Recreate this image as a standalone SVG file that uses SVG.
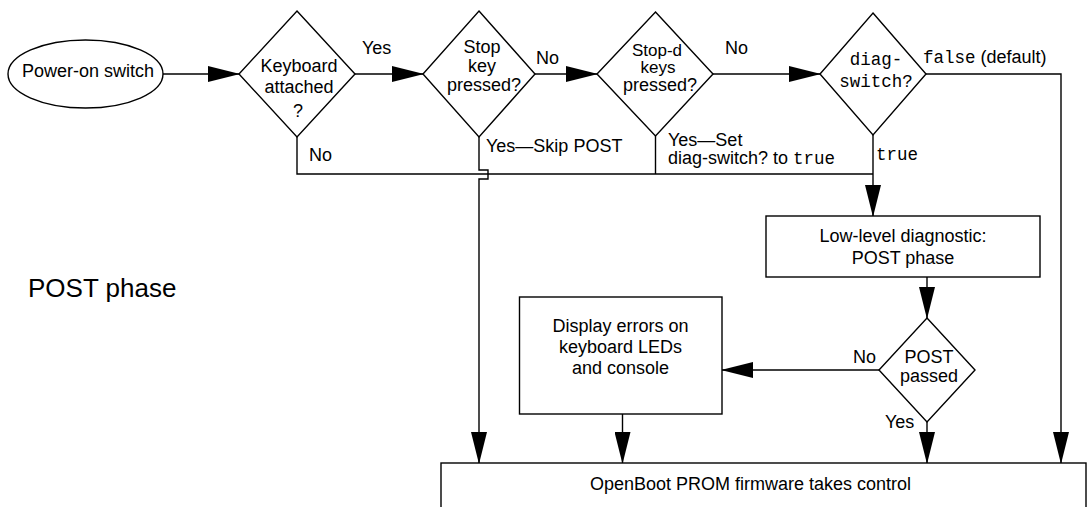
<svg xmlns="http://www.w3.org/2000/svg" width="1087" height="507" viewBox="0 0 1087 507">
<style>
.s{fill:none;stroke:#000;stroke-width:1.4}
.n{fill:#fff;stroke:#000;stroke-width:1.4}
text{font-family:"Liberation Sans",Arial,sans-serif;font-size:18px;fill:#000}
.m{font-family:"Liberation Mono","Courier New",monospace;font-size:17.5px}
.c{text-anchor:middle}
.t{font-size:17px}
</style>
<defs>
<marker id="ah" markerUnits="userSpaceOnUse" markerWidth="32" markerHeight="16" refX="31" refY="8" orient="auto">
<path d="M0,0 L32,8 L0,16 z" fill="#000"/>
</marker>
</defs>
<rect width="1087" height="507" fill="#fff"/>
<g id="connectors">
<path class="s" d="M163,74 H239" marker-end="url(#ah)"/>
<path class="s" d="M355,74 H423" marker-end="url(#ah)"/>
<path class="s" d="M535,74 H597" marker-end="url(#ah)"/>
<path class="s" d="M713,74 H820" marker-end="url(#ah)"/>
<path class="s" d="M297,137 V174 H873"/>
<path class="s" d="M655.5,136 V174"/>
<path class="s" d="M873,135 V216" marker-end="url(#ah)"/>
<path class="s" d="M479,137 V170 H488 V179 H479 V463" marker-end="url(#ah)"/>
<path class="s" d="M926,74 H1061 V463" marker-end="url(#ah)"/>
<path class="s" d="M927,277 V318" marker-end="url(#ah)"/>
<path class="s" d="M879,370 H722" marker-end="url(#ah)"/>
<path class="s" d="M927,422 V463" marker-end="url(#ah)"/>
<path class="s" d="M622.5,414 V463" marker-end="url(#ah)"/>
</g>
<g id="labels">
<text x="362" y="54">Yes</text>
<text x="309" y="161">No</text>
<text x="536" y="64">No</text>
<text x="486" y="152">Yes—Skip POST</text>
<text x="725" y="54">No</text>
<text x="668" y="146">Yes—Set</text>
<text x="668" y="164">diag-switch? to <tspan class="m">true</tspan></text>
<text x="923" y="63"><tspan class="m">false</tspan> (default)</text>
<text x="876" y="160" class="m">true</text>
<text x="853" y="363">No</text>
<text x="885" y="428">Yes</text>
<text x="28" y="297" style="font-size:26px">POST phase</text>
</g>
<g id="power-on">
<ellipse class="n" cx="85.5" cy="74" rx="77.5" ry="34"/>
<text x="88" y="77" class="c">Power-on switch</text>
</g>
<g id="keyboard">
<polygon class="n" points="297,11 355,74 297,137 239,74"/>
<text x="299" y="72" class="c">Keyboard</text>
<text x="299" y="93" class="c">attached</text>
<text x="298" y="117" class="c">?</text>
</g>
<g id="stop-key">
<polygon class="n" points="479,11 535,74 479,137 423,74"/>
<text x="482" y="53" class="c">Stop</text>
<text x="482" y="72" class="c">key</text>
<text x="484" y="91" class="c">pressed?</text>
</g>
<g id="stop-d">
<polygon class="n" points="655.5,12 713,74 655.5,136 597,74"/>
<text x="657" y="56" class="c t">Stop-d</text>
<text x="658" y="73" class="c t">keys</text>
<text x="660" y="91" class="c">pressed?</text>
</g>
<g id="diag-switch">
<polygon class="n" points="873,13 926,74 873,135 820,74"/>
<text x="876" y="65" class="c m">diag-</text>
<text x="876" y="87" class="c m">switch?</text>
</g>
<g id="low-level">
<rect class="n" x="766" y="216" width="274" height="61"/>
<text x="903" y="242" class="c">Low-level diagnostic:</text>
<text x="903" y="264" class="c">POST phase</text>
</g>
<g id="post-passed">
<polygon class="n" points="927,318 975,370 927,422 879,370"/>
<text x="929" y="363" class="c">POST</text>
<text x="929" y="382" class="c">passed</text>
</g>
<g id="display-errors">
<rect class="n" x="519.5" y="297" width="202.5" height="117"/>
<text x="620.5" y="332" class="c">Display errors on</text>
<text x="620.5" y="353" class="c">keyboard LEDs</text>
<text x="620.5" y="374" class="c">and console</text>
</g>
<g id="openboot">
<rect class="n" x="441" y="463" width="645" height="60"/>
<text x="750.5" y="490" class="c">OpenBoot PROM firmware takes control</text>
</g>
</svg>
